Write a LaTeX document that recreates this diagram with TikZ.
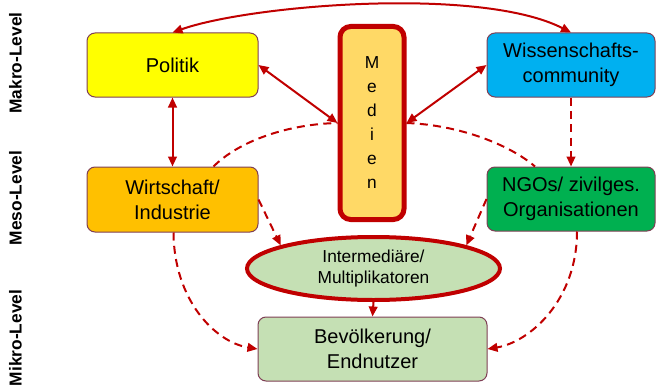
\documentclass[tikz,border=0pt]{standalone}
\usepackage{fontspec}
\setmainfont{Liberation Sans}
\usetikzlibrary{arrows.meta,shapes.geometric,calc}
\definecolor{arr}{HTML}{C00000}
\definecolor{thinb}{HTML}{7F3F55}
\definecolor{cPol}{HTML}{FFFF00}
\definecolor{cWiss}{HTML}{00B0F0}
\definecolor{cWirt}{HTML}{FFC000}
\definecolor{cNgo}{HTML}{00B050}
\definecolor{cMed}{HTML}{FFD966}
\definecolor{cGreen}{HTML}{C5E0B4}
\begin{document}
\begin{tikzpicture}[x=0.75pt,y=-0.75pt,
  >={Triangle[length=7.5pt,width=6.5pt]},
  box/.style={draw=thinb,line width=0.75pt,rounded corners=6pt,align=center,inner sep=0pt,
    font=\fontsize{15}{18.75}\selectfont},
  conn/.style={draw=arr,line width=1.5pt},
  dconn/.style={draw=arr,line width=1.5pt,dash pattern=on 6pt off 4pt},
  lvl/.style={rotate=90,font=\bfseries\fontsize{13}{15}\selectfont}]
\useasboundingbox (0,0) rectangle (656,385);

% level labels
\node[lvl] (makro) at (15.5,63) {Makro-Level};
\node[lvl] (meso) at (15.5,198) {Meso-Level};
\node[lvl] (mikro) at (15.5,338) {Mikro-Level};

% nodes
\node[box,fill=cPol,minimum width=128.25pt,minimum height=48pt] (pol) at (172.5,65) {Politik};
\node[box,fill=cWirt,minimum width=128.25pt,minimum height=48.75pt] (wirt) at (172.5,199.5) {Wirtschaft/\\Industrie};
\node[box,fill=cWiss,minimum width=126pt,minimum height=48pt] (wiss) at (571,65) {Wissenschafts-\\community};
\node[box,fill=cNgo,minimum width=126pt,minimum height=48pt] (ngo) at (571,199) {NGOs/ zivilges.\\Organisationen};
\node[draw=arr,line width=3.75pt,fill=cMed,rounded corners=8pt,minimum width=48pt,minimum height=144.75pt,
  inner sep=0pt,align=center,font=\fontsize{13}{18}\selectfont] (med) at (372,123) {M\\e\\d\\i\\e\\n};
\node[ellipse,draw=arr,line width=3pt,fill=cGreen,minimum width=189.75pt,minimum height=47.25pt,
  inner sep=0pt,align=center,font=\fontsize{13}{15.75}\selectfont] (inter) at (373.5,268.5) {Intermediäre/\\Multiplikatoren};
\node[box,fill=cGreen,minimum width=171.75pt,minimum height=48pt] (bev) at (372.5,349) {Bevölkerung/\\Endnutzer};

% connectors
\draw[conn,<->] (pol.north) .. controls (250,5) and (480,-14) .. (wiss.north);
\draw[conn,<->] (pol.south) -- (wirt.north);
\draw[conn,<->] (pol.east) -- (med.west);
\draw[conn,<->] (med.east) -- (wiss.west);
\draw[dconn,->] (wiss.south) -- (ngo.north);
\draw[dconn] ($(wirt.north)+(41,0)$) .. controls (240,140) and (290,124) .. (med.west);
\draw[dconn] (med.east) .. controls (460,125) and (510,145) .. ($(ngo.north)+(-36,0)$);
\draw[dconn,->] (wirt.east) -- (inter.166);
\draw[dconn,->] (ngo.west) -- (inter.14);
\draw[dconn,->] ($(wirt.south)+(1,0)$) .. controls (174,300) and (215,342) .. (bev.west);
\draw[dconn,->] ($(ngo.south)+(6,0)$) .. controls (577,300) and (530,342) .. (bev.east);
\draw[conn,->] (inter.south) -- (bev.north);
\end{tikzpicture}
\end{document}
